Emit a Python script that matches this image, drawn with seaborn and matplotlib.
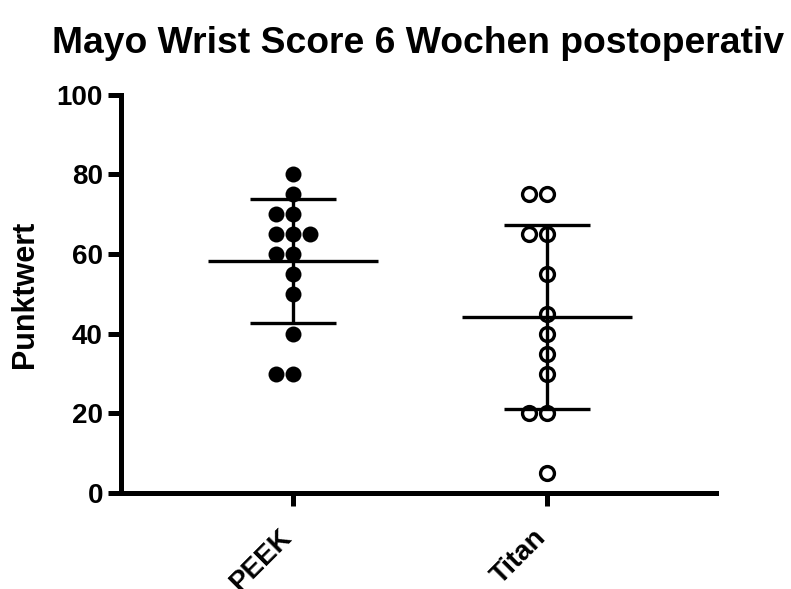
import numpy as np
import pandas as pd
import matplotlib
matplotlib.use("Agg")
import matplotlib.pyplot as plt
import seaborn as sns

# Mayo Wrist Score, 6 Wochen postoperativ
groups = ["PEEK", "Titan"]
peek = [80, 75, 70, 70, 65, 65, 65, 60, 60, 55, 50, 40, 30, 30]
titan = [75, 75, 65, 65, 55, 45, 40, 35, 30, 20, 20, 5]
y_ticks = [0, 20, 40, 60, 80, 100]

df = pd.DataFrame({
    "Gruppe": ["PEEK"] * len(peek) + ["Titan"] * len(titan),
    "Punktwert": peek + titan,
})

sns.set_style("ticks", {"axes.edgecolor": "black", "text.color": "black",
                        "axes.labelcolor": "black", "xtick.color": "black",
                        "ytick.color": "black"})
plt.rcParams["font.family"] = ["Liberation Sans", "DejaVu Sans"]
plt.rcParams["font.weight"] = "bold"

fig = plt.figure(figsize=(7.91, 5.89), dpi=100)
ax = fig.add_axes([0.153, 0.163, 0.752, 0.676])

# Punkte
sns.swarmplot(data=df[df.Gruppe == "PEEK"], x="Gruppe", y="Punktwert", order=groups,
              color="black", size=11.5, ax=ax, zorder=2)
sns.swarmplot(data=df[df.Gruppe == "Titan"], x="Gruppe", y="Punktwert", order=groups,
              color="white", edgecolor="black", linewidth=2.4, size=10, ax=ax, zorder=2)

# Mittelwert +/- SD
stats = df.groupby("Gruppe")["Punktwert"].agg(["mean", "std"]).reindex(groups)
pos = np.arange(len(groups))
ax.errorbar(pos, stats["mean"], yerr=stats["std"], fmt="none", ecolor="black",
            elinewidth=2.4, capsize=31, capthick=2.4, zorder=3)
ax.hlines(stats["mean"], pos - 0.335, pos + 0.335, color="black", linewidth=2.4, zorder=3)

ax.set_xlim(-0.677, 1.665)
ax.set_ylim(0, 100)
ax.set_yticks(y_ticks)
ax.set_xlabel("")
ax.set_ylabel("Punktwert", fontsize=22, fontweight="bold", labelpad=12, color="black")
ax.set_title("Mayo Wrist Score 6 Wochen postoperativ", fontsize=26.8, fontweight="bold",
             pad=30, color="black")

for s in ["top", "right"]:
    ax.spines[s].set_visible(False)
for s in ["left", "bottom"]:
    ax.spines[s].set_linewidth(3.6)
    ax.spines[s].set_color("black")
ax.tick_params(axis="both", width=3.6, length=9.5, labelsize=20, color="black",
               labelcolor="black")
ax.tick_params(axis="x", pad=23)
for lab in ax.get_yticklabels():
    lab.set_fontweight("bold")
ax.set_xticks(pos)
ax.set_xticklabels(groups, rotation=45, ha="right", va="baseline", rotation_mode="anchor",
                   fontsize=20, fontweight="bold")

fig.savefig("out.png", dpi=100)
